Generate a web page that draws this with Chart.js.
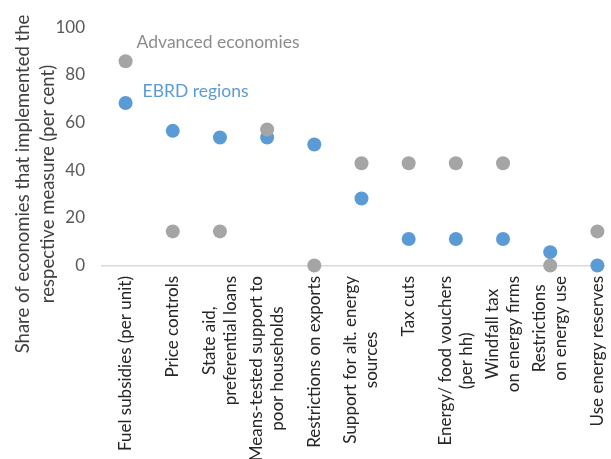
<!DOCTYPE html>
<html>
<head>
<meta charset="utf-8">
<script src="https://cdn.jsdelivr.net/npm/chart.js@4/dist/chart.umd.min.js"></script>
<style>
  html, body { margin: 0; padding: 0; background: #fff; overflow: hidden; }
</style>
</head>
<body>
<canvas id="measuresChart" width="611" height="459"></canvas>
<script>
const categories = [
    ["Fuel subsidies (per unit)"],
    ["Price controls"],
    ["State aid,", "preferential loans"],
    ["Means-tested support to", "poor households"],
    ["Restrictions on exports"],
    ["Support for alt. energy", "sources"],
    ["Tax cuts"],
    ["Energy/ food vouchers", "(per hh)"],
    ["Windfall tax", "on energy firms"],
    ["Restrictions", "on energy use"],
    ["Use energy reserves"]
];
const advancedEconomies = [85.7, 14.3, 14.3, 57.1, 0, 42.9, 42.9, 42.9, 42.9, 0, 14.3];
const ebrdRegions = [68.2, 56.5, 53.7, 53.7, 50.8, 28.1, 11.1, 11.1, 11.1, 5.6, 0];
const yTicks = [0, 20, 40, 60, 80, 100];
const yTitle = ["Share of economies that implemented the", "respective measure (per cent)"];

const FONT = "Lato, 'Open Sans', sans-serif";

const toPoints = values => values.map((v, i) => ({x: i, y: v}));

// labels, axis title and series names drawn by hand (rotated/centred like the original)
const textPlugin = {
    id: "textPlugin",
    afterDraw(chart) {
        const ctx = chart.ctx;
        const x = chart.scales.x;

        // category labels, rotated, lines centred on each other
        ctx.save();
        ctx.fillStyle = "#262626";
        ctx.font = `17px ${FONT}`;
        ctx.textAlign = "center";
        ctx.textBaseline = "middle";
        const top = 276;
        const lh = 21;
        categories.forEach((lines, i) => {
            const cx = x.getPixelForValue(i);
            const maxW = Math.max(...lines.map(l => ctx.measureText(l).width));
            lines.forEach((line, j) => {
                ctx.save();
                ctx.translate(cx + (j - (lines.length - 1) / 2) * lh, top + maxW / 2);
                ctx.rotate(-Math.PI / 2);
                ctx.fillText(line, 0, 0);
                ctx.restore();
            });
        });
        ctx.restore();

        // y axis title
        ctx.save();
        ctx.fillStyle = "#404040";
        ctx.font = `18.5px ${FONT}`;
        ctx.textAlign = "center";
        ctx.textBaseline = "middle";
        yTitle.forEach((line, j) => {
            ctx.save();
            ctx.translate(23 + j * 25, 184);
            ctx.rotate(-Math.PI / 2);
            ctx.fillText(line, 0, 0);
            ctx.restore();
        });
        ctx.restore();

        // series names next to the first points
        const adv = chart.getDatasetMeta(0).data[0];
        const ebrd = chart.getDatasetMeta(1).data[0];
        ctx.save();
        ctx.font = `17.5px ${FONT}`;
        ctx.textAlign = "left";
        ctx.textBaseline = "middle";
        ctx.fillStyle = "#8c8c8c";
        ctx.fillText("Advanced economies", adv.x + 11, adv.y - 19);
        ctx.fillStyle = "#5b9bd5";
        ctx.fillText("EBRD regions", ebrd.x + 17, ebrd.y - 12);
        ctx.restore();
    }
};

const ctx = document.getElementById("measuresChart").getContext("2d");

new Chart(ctx, {
    type: "scatter",
    data: {
        datasets: [
            {
                label: "Advanced economies",
                data: toPoints(advancedEconomies),
                backgroundColor: "#a5a5a5",
                borderColor: "#a5a5a5",
                pointRadius: 7,
                pointHoverRadius: 7,
                borderWidth: 0,
                clip: false
            },
            {
                label: "EBRD regions",
                data: toPoints(ebrdRegions),
                backgroundColor: "#5b9bd5",
                borderColor: "#5b9bd5",
                pointRadius: 7,
                pointHoverRadius: 7,
                borderWidth: 0,
                clip: false
            }
        ]
    },
    options: {
        responsive: false,
        animation: false,
        layout: { padding: { top: 24, left: 0, right: 0, bottom: 0 } },
        plugins: {
            legend: { display: false },
            tooltip: { enabled: false }
        },
        scales: {
            x: {
                type: "linear",
                min: -0.5,
                max: 10.14,
                grid: { display: false, drawTicks: false },
                border: { display: true, color: "#d9d9d9", width: 1.5 },
                ticks: { display: false },
                afterFit: scale => { scale.height = 193.5; }
            },
            y: {
                min: 0,
                max: 100,
                afterBuildTicks: scale => { scale.ticks = yTicks.map(v => ({value: v})); },
                grid: { display: false, drawTicks: false },
                border: { display: false },
                ticks: {
                    padding: 17,
                    color: "#595959",
                    font: { family: FONT, size: 17 }
                },
                afterFit: scale => { scale.width = 102; }
            }
        }
    },
    plugins: [textPlugin]
});
</script>
</body>
</html>
